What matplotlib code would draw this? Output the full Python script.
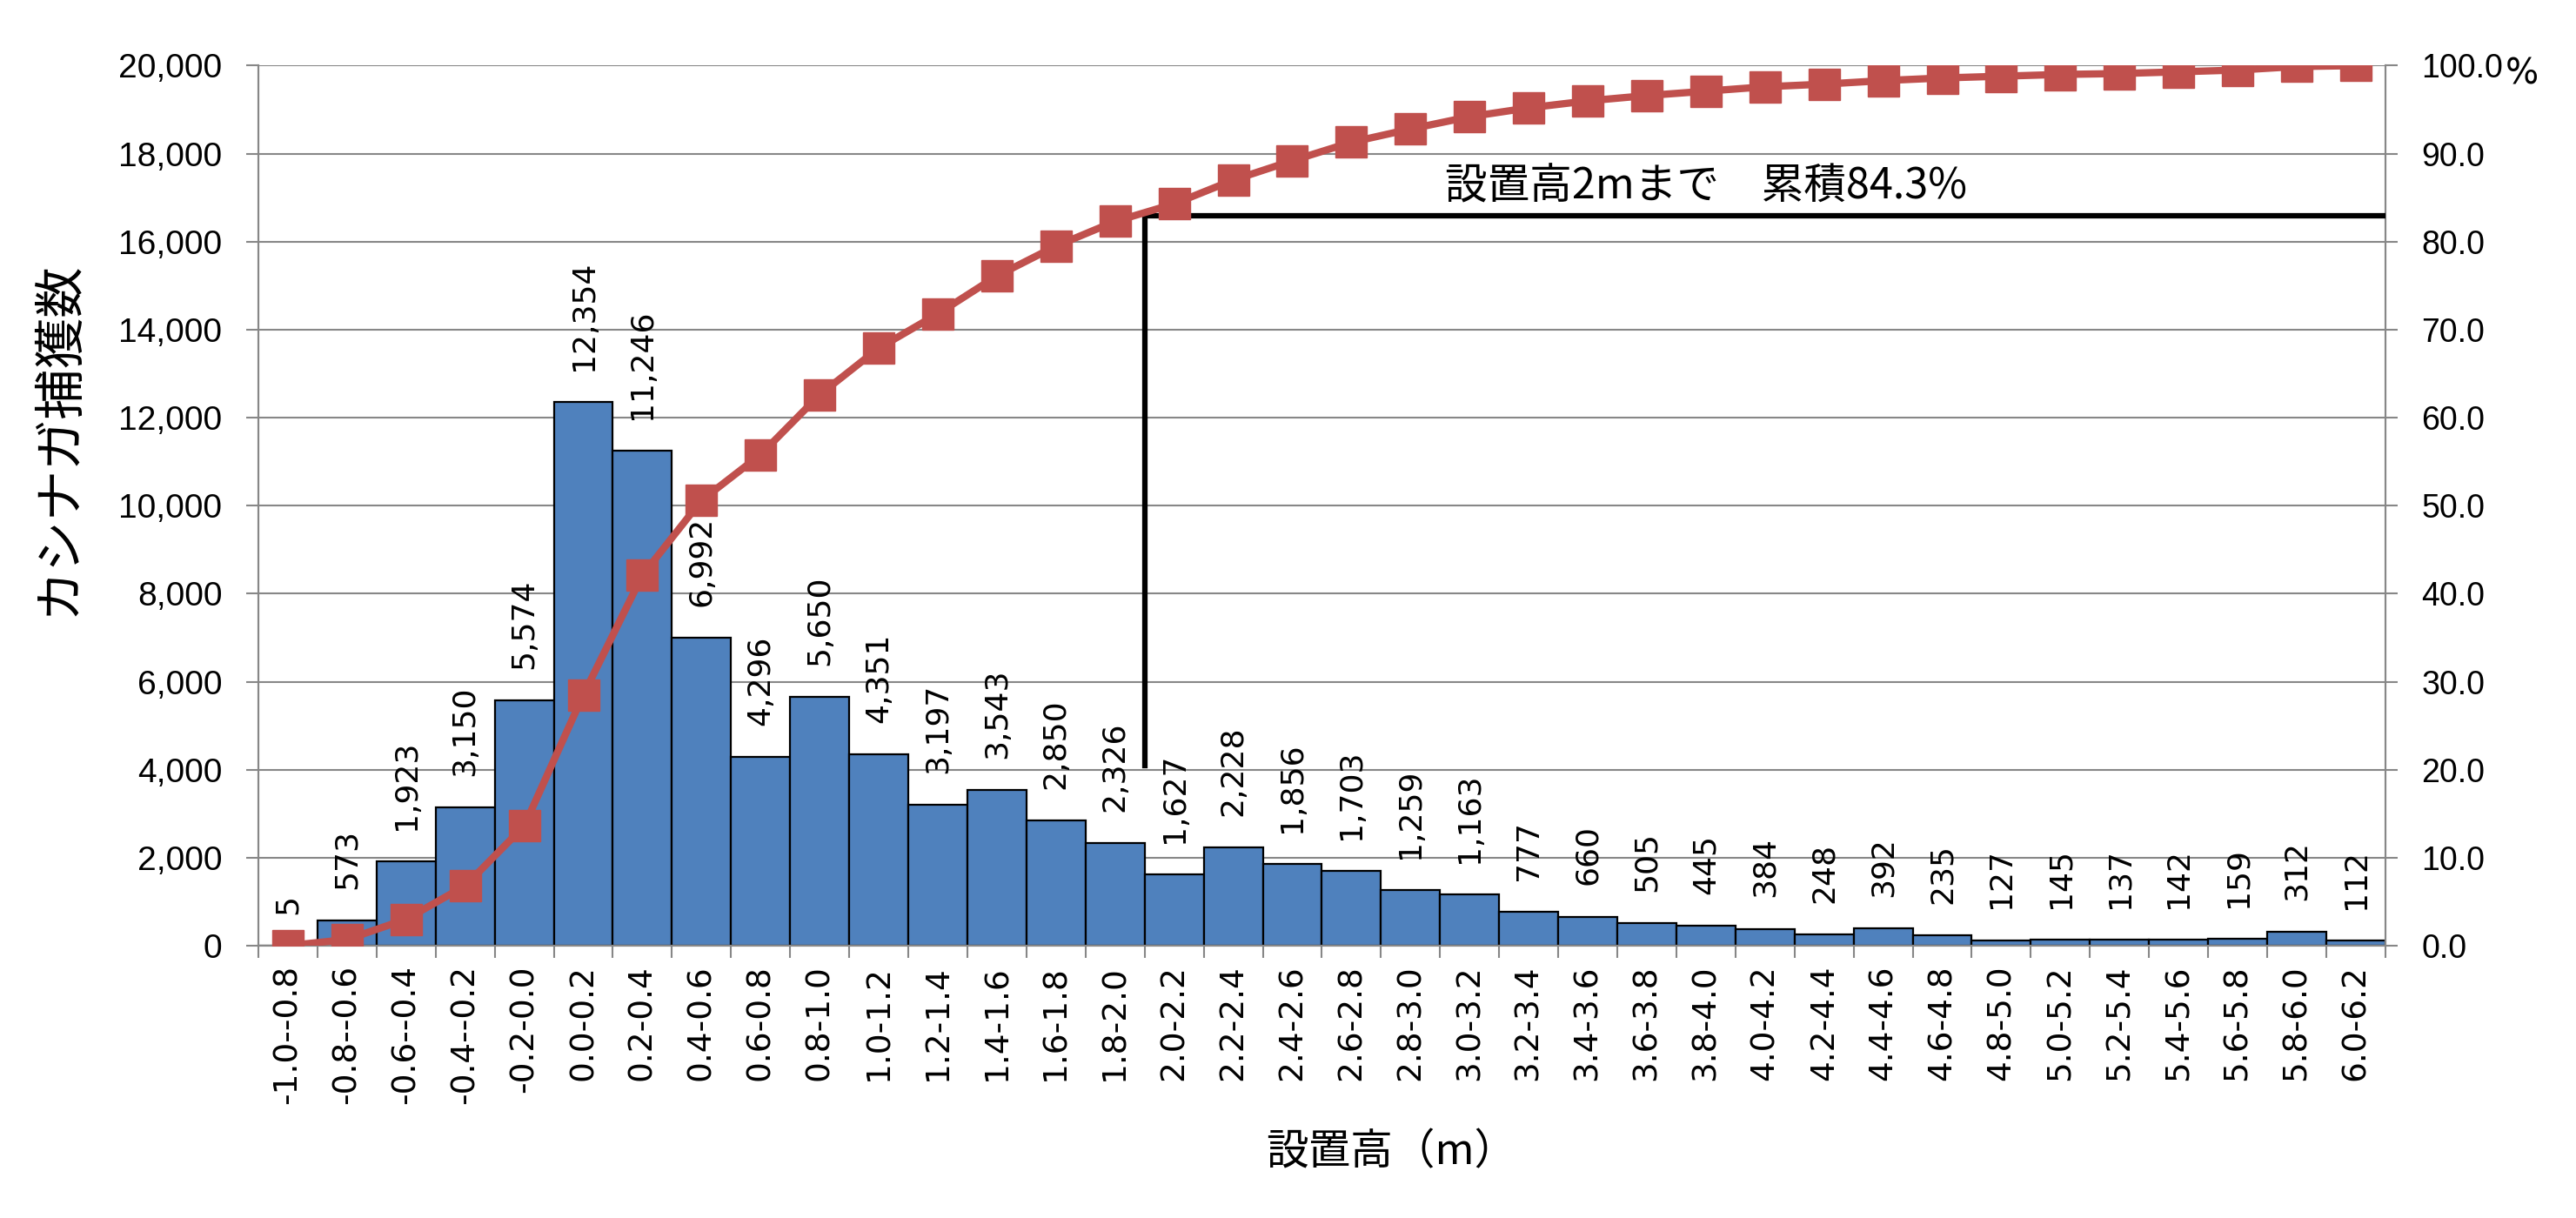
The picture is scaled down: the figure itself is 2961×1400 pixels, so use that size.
import matplotlib
matplotlib.use("Agg")
import matplotlib.pyplot as plt

# 設置高ごとのカシナガ捕獲数
bins = ["-1.0--0.8", "-0.8--0.6", "-0.6--0.4", "-0.4--0.2", "-0.2-0.0",
        "0.0-0.2", "0.2-0.4", "0.4-0.6", "0.6-0.8", "0.8-1.0",
        "1.0-1.2", "1.2-1.4", "1.4-1.6", "1.6-1.8", "1.8-2.0",
        "2.0-2.2", "2.2-2.4", "2.4-2.6", "2.6-2.8", "2.8-3.0",
        "3.0-3.2", "3.2-3.4", "3.4-3.6", "3.6-3.8", "3.8-4.0",
        "4.0-4.2", "4.2-4.4", "4.4-4.6", "4.6-4.8", "4.8-5.0",
        "5.0-5.2", "5.2-5.4", "5.4-5.6", "5.6-5.8", "5.8-6.0", "6.0-6.2"]
counts = [5, 573, 1923, 3150, 5574, 12354, 11246, 6992, 4296, 5650,
          4351, 3197, 3543, 2850, 2326, 1627, 2228, 1856, 1703, 1259,
          1163, 777, 660, 505, 445, 384, 248, 392, 235, 127,
          145, 137, 142, 159, 312, 112]
# 累積割合(%)
cum_pct = [0.0, 0.7, 3.0, 6.8, 13.6, 28.5, 42.1, 50.6, 55.8, 62.6,
           67.9, 71.8, 76.1, 79.5, 82.3, 84.3, 87.0, 89.2, 91.3, 92.8,
           94.2, 95.2, 96.0, 96.6, 97.1, 97.6, 97.9, 98.3, 98.6, 98.8,
           99.0, 99.1, 99.3, 99.5, 99.9, 100.0]

yticks_left = [0, 2000, 4000, 6000, 8000, 10000, 12000, 14000, 16000, 18000, 20000]
yticks_right = [0, 10, 20, 30, 40, 50, 60, 70, 80, 90, 100]

jp = ["Noto Sans CJK JP", "DejaVu Sans"]
narrow = ["Liberation Sans Narrow", "Liberation Sans", "DejaVu Sans"]
grid_c = "#878787"
blue = "#4F81BD"
red = "#C0504D"

fig = plt.figure(figsize=(29.61, 14), dpi=100)
ax = fig.add_axes([0.1003, 0.2236, 0.8257, 0.7225])
ax2 = ax.twinx()

x = list(range(len(bins)))
ax.bar(x, counts, width=1.0, color=blue, edgecolor="black", linewidth=1.6, zorder=2)
for xi, v in zip(x, counts):
    ax.annotate(f"{v:,}", (xi, v), xytext=(0, 26), textcoords="offset points",
                rotation=90, ha="center", va="bottom", fontsize=26,
                family="DejaVu Sans")

ax.set_xlim(-0.5, len(bins) - 0.5)
ax.set_ylim(0, 20000)
ax.set_yticks(yticks_left)
ax.set_yticklabels([f"{t:,}" for t in yticks_left], family=narrow, fontsize=28)
ax.yaxis.grid(True, color=grid_c, linewidth=1.5, zorder=0)
ax.set_axisbelow(True)

# x軸: 目盛り線は区間の境界、ラベルは区間の中央
ax.set_xticks([i - 0.5 for i in range(len(bins) + 1)])
ax.set_xticklabels([])
ax.set_xticks(x, minor=True)
ax.set_xticklabels(bins, minor=True, rotation=90, fontsize=27, family="DejaVu Sans")
ax.tick_params(axis="x", which="major", length=10, width=1.5, color=grid_c)
ax.tick_params(axis="x", which="minor", length=0, pad=16)
ax.tick_params(axis="y", length=10, width=1.5, color=grid_c, pad=20)

for s in ["top"]:
    ax.spines[s].set_visible(False)
    ax2.spines[s].set_visible(False)
for a in (ax, ax2):
    for s in ["left", "right", "bottom"]:
        a.spines[s].set_color(grid_c)
        a.spines[s].set_linewidth(1.5)

ax2.set_ylim(0, 100)
ax2.set_yticks(yticks_right)
ax2.set_yticklabels([f"{t:.1f}" for t in yticks_right], family=narrow, fontsize=27)
ax2.tick_params(axis="y", length=10, width=1.5, color=grid_c, pad=20)

ax2.plot([14.5, 14.5, len(bins) - 0.5], [20.5, 82.9, 82.9], color="black",
         linewidth=4.5, solid_joinstyle="miter", zorder=3)
ax2.plot(x, cum_pct, color=red, linewidth=6, marker="s", markersize=26,
         markerfacecolor=red, markeredgecolor=red, zorder=4)
ax2.text(24.0, 86.2, "設置高2mまで　累積84.3%", ha="center", va="center",
         fontsize=35, family=jp)

fig.text(0.979, 0.939, "%", ha="center", va="center", fontsize=29, family="DejaVu Sans")
fig.text(0.0226, 0.64, "カシナガ捕獲数", rotation=90, ha="center", va="center",
         fontsize=42, family=jp)
fig.text(0.540, 0.0536, "設置高（m）", ha="center", va="center", fontsize=35, family=jp)

fig.savefig("out.png", dpi=100)
